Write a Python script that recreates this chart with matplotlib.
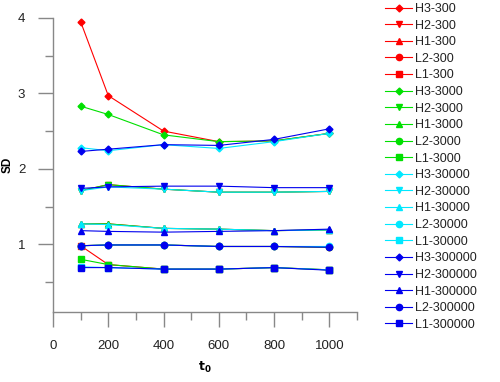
import matplotlib
matplotlib.use("Agg")
import matplotlib.pyplot as plt
from matplotlib.ticker import MultipleLocator

plt.rcParams["font.family"] = ["Liberation Sans", "DejaVu Sans"]

t0 = [100, 200, 400, 600, 800, 1000]

# 300
h3_300 = [3.95, 2.97, 2.50, 2.36, 2.37, 2.47]
h2_300 = [1.71, 1.79, 1.73, 1.69, 1.69, 1.70]
h1_300 = [1.27, 1.27, 1.21, 1.20, 1.18, 1.19]
l2_300 = [0.98, 0.99, 0.99, 0.97, 0.97, 0.96]
l1_300 = [0.98, 0.73, 0.67, 0.67, 0.69, 0.66]
# 3000
h3_3000 = [2.83, 2.72, 2.45, 2.36, 2.37, 2.47]
h2_3000 = [1.71, 1.79, 1.73, 1.69, 1.69, 1.70]
h1_3000 = [1.27, 1.27, 1.21, 1.20, 1.18, 1.19]
l2_3000 = [0.98, 0.99, 0.99, 0.97, 0.97, 0.96]
l1_3000 = [0.80, 0.73, 0.67, 0.67, 0.69, 0.66]
# 30000
h3_30000 = [2.28, 2.24, 2.32, 2.27, 2.36, 2.47]
h2_30000 = [1.71, 1.76, 1.73, 1.69, 1.69, 1.70]
h1_30000 = [1.27, 1.26, 1.21, 1.20, 1.18, 1.19]
l2_30000 = [0.98, 0.99, 0.99, 0.97, 0.97, 0.97]
l1_30000 = [0.70, 0.69, 0.67, 0.67, 0.69, 0.66]
# 300000
h3_300000 = [2.23, 2.26, 2.32, 2.31, 2.39, 2.53]
h2_300000 = [1.74, 1.76, 1.77, 1.77, 1.75, 1.75]
h1_300000 = [1.18, 1.17, 1.16, 1.17, 1.18, 1.20]
l2_300000 = [0.98, 0.99, 0.99, 0.97, 0.97, 0.96]
l1_300000 = [0.69, 0.69, 0.67, 0.67, 0.69, 0.655]

groups = [
    ("300", "#ff0000", [h3_300, h2_300, h1_300, l2_300, l1_300]),
    ("3000", "#00e000", [h3_3000, h2_3000, h1_3000, l2_3000, l1_3000]),
    ("30000", "#00e8ff", [h3_30000, h2_30000, h1_30000, l2_30000, l1_30000]),
    ("300000", "#0000ee", [h3_300000, h2_300000, h1_300000, l2_300000, l1_300000]),
]
names = ["H3", "H2", "H1", "L2", "L1"]
markers = ["D", "v", "^", "o", "s"]
msizes = [3.5, 4.5, 4.5, 4.5, 4]

fig = plt.figure(figsize=(5, 3.82), dpi=100)
ax = fig.add_axes([0.106, 0.183, 0.608, 0.770])

for suffix, color, series in groups:
    for name, mk, ms, ys in zip(names, markers, msizes, series):
        ax.plot(t0, ys, color=color, lw=0.8, marker=mk, ms=ms,
                mec=color, mfc=color, label=f"{name}-{suffix}")

ax.set_xlim(0, 1100)
ax.set_ylim(0.1, 4.0)
ax.xaxis.set_major_locator(MultipleLocator(200))
ax.xaxis.set_minor_locator(MultipleLocator(100))
ax.yaxis.set_major_locator(MultipleLocator(1))
ax.yaxis.set_minor_locator(MultipleLocator(0.5))
for side in ["top", "right"]:
    ax.spines[side].set_visible(False)
for side in ["left", "bottom"]:
    ax.spines[side].set_color("#888888")
    ax.spines[side].set_linewidth(1.0)
ax.tick_params(which="major", length=11, width=1.0, color="#888888",
               labelsize=9.5, labelcolor="#222222", pad=9)
ax.tick_params(which="minor", length=5.5, width=1.0, color="#888888")

ax.set_xlabel(r"$\mathbf{t}_{\mathbf{0}}$", fontsize=9, labelpad=6)
ax.set_ylabel("SD", fontsize=8.5, fontweight="bold", labelpad=3)

leg = ax.legend(loc="upper left", bbox_to_anchor=(1.076, 1.068), frameon=False,
                fontsize=9, handlelength=2.16, handletextpad=0.25,
                labelspacing=0.37, borderaxespad=0.0)
for txt in leg.get_texts():
    txt.set_color("#222222")

fig.savefig("out.png", dpi=100)
